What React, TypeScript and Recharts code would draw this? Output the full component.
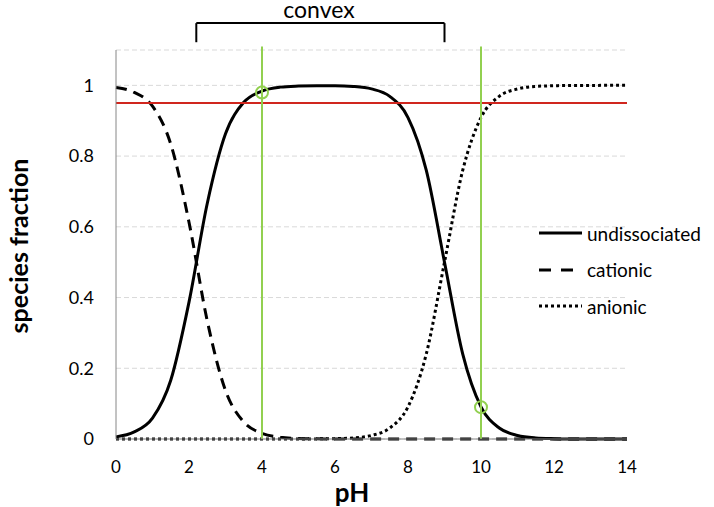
import React from 'react';
import { LineChart, Line, XAxis, YAxis, CartesianGrid, ReferenceLine, ReferenceDot } from 'recharts';

const PH = [0, 0.5, 1, 1.5, 2, 2.5, 3, 3.5, 4, 4.5, 5, 5.5, 6, 6.5, 7, 7.5, 8, 8.5, 9, 9.5, 10, 10.5, 11, 11.5, 12, 12.5, 13, 13.5, 14];
const UNDISSOCIATED = [0.006, 0.02, 0.059, 0.166, 0.387, 0.666, 0.863, 0.952, 0.984, 0.995, 0.998, 0.999, 0.999, 0.997, 0.99, 0.969, 0.909, 0.76, 0.5, 0.24, 0.091, 0.031, 0.01, 0.003, 0.001, 0.0003, 0.0001, 0, 0];
const CATIONIC = [0.994, 0.98, 0.941, 0.834, 0.613, 0.334, 0.137, 0.048, 0.016, 0.005, 0.0016, 0.0005, 0.0002, 0, 0, 0, 0, 0, 0, 0, 0, 0, 0, 0, 0, 0, 0, 0, 0];
const ANIONIC = [0, 0, 0, 0, 0, 0, 0, 0, 0, 0, 0.0001, 0.0003, 0.001, 0.003, 0.01, 0.031, 0.091, 0.24, 0.5, 0.76, 0.909, 0.969, 0.99, 0.997, 0.999, 0.9997, 0.9999, 1, 1];

const X_TICKS = [0, 2, 4, 6, 8, 10, 12, 14];
const Y_TICKS = [0, 0.2, 0.4, 0.6, 0.8, 1];
const THRESHOLD = 0.95;
const MARK_PH = [4, 10];
const MARK_POINTS = [{ x: 4, y: 0.98 }, { x: 10, y: 0.09 }];
const CONVEX_RANGE = [2.2, 9.0];

const data = PH.map((ph, i) => ({
  ph,
  undissociated: UNDISSOCIATED[i],
  cationic: CATIONIC[i],
  anionic: ANIONIC[i],
}));

const FONT = 'Lato, "Open Sans", sans-serif';
const GREEN = '#92D050';

const legendItems = [
  { name: 'undissociated', dash: undefined },
  { name: 'cationic', dash: '12 10' },
  { name: 'anionic', dash: '3 3' },
];

export default function App() {
  const braceTop = 1.176;
  const braceBottom = 1.122;

  return (
    <div style={{ position: 'absolute', left: 0, top: 0, width: 714, height: 507, background: '#fff', fontFamily: FONT }}>
      <LineChart width={714} height={507} data={data} margin={{ top: 50, right: 87, bottom: 28, left: 56 }}>
        <CartesianGrid vertical={false} stroke="#D9D9D9" strokeDasharray="5 3" />
        <XAxis
          dataKey="ph"
          type="number"
          domain={[0, 14]}
          ticks={X_TICKS}
          height={40}
          tickLine={false}
          tickSize={0}
          tickMargin={22}
          axisLine={{ stroke: '#868686' }}
          tick={{ fill: '#000', fontSize: 17, fontFamily: FONT }}
        />
        <YAxis
          type="number"
          domain={[0, 1.1]}
          ticks={Y_TICKS}
          width={60}
          tickLine={false}
          tickSize={0}
          tickMargin={22}
          axisLine={{ stroke: '#868686' }}
          tick={{ fill: '#000', fontSize: 18, fontFamily: FONT }}
        />
        <Line type="monotone" dataKey="undissociated" stroke="#000" strokeWidth={3} dot={false} isAnimationActive={false} />
        <Line type="monotone" dataKey="cationic" stroke="#000" strokeWidth={3} strokeDasharray="11 7" dot={false} isAnimationActive={false} />
        <Line type="monotone" dataKey="anionic" stroke="#000" strokeWidth={3} strokeDasharray="3 3" dot={false} isAnimationActive={false} />

        <ReferenceLine y={THRESHOLD} stroke="#D0261E" strokeWidth={2} />
        {MARK_PH.map((x) => (
          <ReferenceLine
            key={x}
            segment={[{ x, y: 0 }, { x, y: 1.11 }]}
            stroke={GREEN}
            strokeWidth={2}
            ifOverflow="visible"
          />
        ))}
        {MARK_POINTS.map((p) => (
          <ReferenceDot key={p.x} x={p.x} y={p.y} r={6} fill="none" stroke={GREEN} strokeWidth={2} />
        ))}

        {/* brace over the convex range */}
        <ReferenceLine segment={[{ x: CONVEX_RANGE[0], y: braceBottom }, { x: CONVEX_RANGE[0], y: braceTop }]} stroke="#000" strokeWidth={2} ifOverflow="visible" />
        <ReferenceLine segment={[{ x: CONVEX_RANGE[0], y: braceTop }, { x: CONVEX_RANGE[1], y: braceTop }]} stroke="#000" strokeWidth={2} ifOverflow="visible" />
        <ReferenceLine segment={[{ x: CONVEX_RANGE[1], y: braceBottom }, { x: CONVEX_RANGE[1], y: braceTop }]} stroke="#000" strokeWidth={2} ifOverflow="visible" />
      </LineChart>

      <div style={{ position: 'absolute', left: 269, top: 0, width: 100, textAlign: 'center', fontSize: 23, lineHeight: '18px', color: '#000' }}>convex</div>

      <div style={{ position: 'absolute', left: 302, top: 479, width: 100, textAlign: 'center', fontSize: 26, lineHeight: '26px', fontWeight: 'bold', color: '#000' }}>pH</div>

      <div
        style={{
          position: 'absolute',
          left: 18,
          top: 246,
          transform: 'translate(-50%, -50%) rotate(-90deg)',
          whiteSpace: 'nowrap',
          fontSize: 25,
          fontWeight: 'bold',
          color: '#000',
        }}
      >
        species fraction
      </div>

      <div style={{ position: 'absolute', left: 539, top: 215 }}>
        {legendItems.map((item) => (
          <div key={item.name} style={{ display: 'flex', alignItems: 'center', height: 36.5 }}>
            <svg width={44} height={8} style={{ marginRight: 4 }}>
              <line x1={0} y1={4} x2={43} y2={4} stroke="#000" strokeWidth={3} strokeDasharray={item.dash} />
            </svg>
            <span style={{ fontSize: 19, color: '#000' }}>{item.name}</span>
          </div>
        ))}
      </div>
    </div>
  );
}
